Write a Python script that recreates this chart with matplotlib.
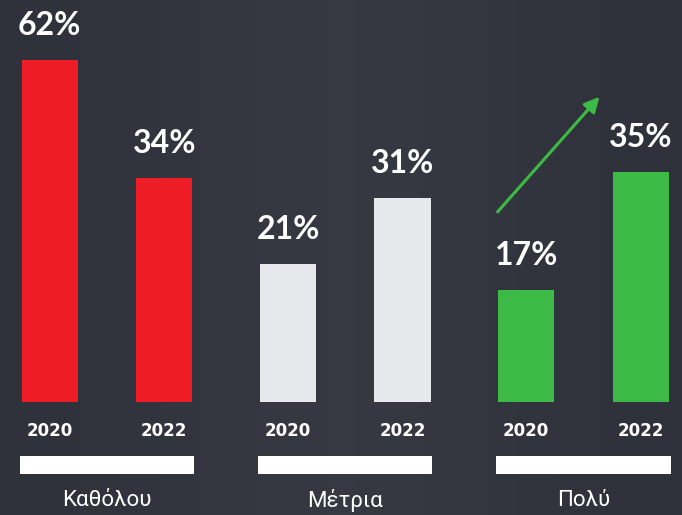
import matplotlib.pyplot as plt
import matplotlib.colors as mcolors
import numpy as np

# data
categories = ['Καθόλου', 'Μέτρια', 'Πολύ']
years = ['2020', '2022']
values_2020 = [62, 21, 17]
values_2022 = [34, 31, 35]
colors = ['#ee1c24', '#e6e8ec', '#3dba45']

# the reference cuts the tallest bar, so bars are drawn up to this height
cap = 52

bg = '#2f323a'
fig = plt.figure(figsize=(6.82, 5.15), dpi=100, facecolor=bg)
ax = fig.add_axes([0, 0, 1, 1])
ax.set_facecolor(bg)

# faint lighter band through the middle, like the photo background
grad = np.linspace(0, 1, 200)
shade = np.exp(-((grad - 0.5) / 0.3) ** 2)
ax.imshow(shade[np.newaxis, :], extent=[-0.94, 5.02, -17.2, 61.1], aspect='auto',
          cmap=mcolors.LinearSegmentedColormap.from_list('bg', [bg, '#363941']),
          zorder=0)

gap = 2.08        # distance between group centres
bw = 0.49         # bar width
xc = np.arange(len(categories)) * gap
x_left = xc - 0.5
x_right = xc + 0.5

for xs, vals in [(x_left, values_2020), (x_right, values_2022)]:
    h = np.minimum(vals, cap)
    ax.bar(xs, h, width=bw, color=colors, zorder=2)
    for x, v, hh in zip(xs, vals, h):
        ax.annotate(f'{v}%', (x, hh), xytext=(0, 25), textcoords='offset points',
                    ha='center', va='center', color='white', fontsize=23,
                    fontweight='bold', family='Lato', zorder=3)

for i, c in enumerate(categories):
    ax.text(x_left[i], -4.4, years[0], ha='center', va='center', color='white',
            fontsize=12, fontweight='bold', family='DejaVu Sans')
    ax.text(x_right[i], -4.4, years[1], ha='center', va='center', color='white',
            fontsize=12, fontweight='bold', family='DejaVu Sans')
    ax.text(xc[i], -14.9, c, ha='center', va='center', color='white',
            fontsize=16, family='Roboto')

# white strips under each group
ax.bar(xc, 2.74, bottom=-10.94, width=1.52, color='white', zorder=2)

# green trend arrow
ax.annotate('', xy=(4.3, 46.4), xytext=(3.41, 28.9),
            arrowprops=dict(arrowstyle='-|>,head_length=0.9,head_width=0.45',
                            color='#3dba45', lw=2.2, shrinkA=0, shrinkB=0), zorder=3)

ax.set_xlim(-0.934, 5.02)
ax.set_ylim(-17.17, 61.1)
ax.axis('off')

fig.savefig('out.png', dpi=100, facecolor=bg)
